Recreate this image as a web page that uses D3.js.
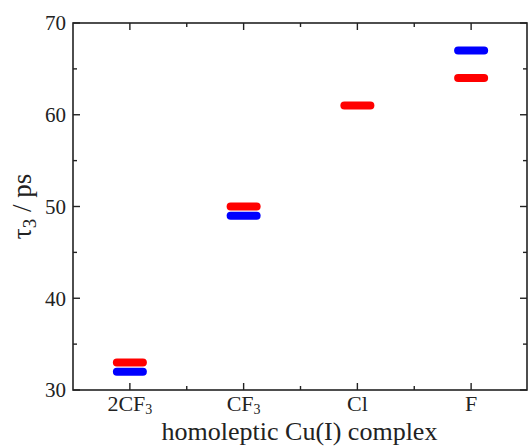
<!DOCTYPE html>
<html>
<head>
<meta charset="utf-8">
<script src="https://cdn.jsdelivr.net/npm/d3@7"></script>
<style>
  body { margin: 0; background: #fff; }
  text { font-family: "Liberation Serif", "Times New Roman", serif; fill: #222; }
</style>
</head>
<body>
<script>
const width = 528;
const height = 448;
const margin = {left: 73, right: 0, top: 23, bottom: 58};

const categories = ['2CF3', 'CF3', 'Cl', 'F'];
const redValues = [33, 50, 61, 64];
const blueValues = [32, 49, null, 67];
const yTicks = [30, 40, 50, 60, 70];

const svg = d3.select('body').append('svg')
  .attr('width', width)
  .attr('height', height);

const x = d3.scaleLinear()
  .domain([0.5, 4.5])
  .range([margin.left, width - margin.right]);

const y = d3.scaleLinear()
  .domain([30, 70])
  .range([height - margin.bottom, margin.top]);

const plotH = height - margin.bottom - margin.top;
const plotW = width - margin.right - margin.left;

// frame
svg.append('rect')
  .attr('x', margin.left)
  .attr('y', margin.top)
  .attr('width', plotW - 1)
  .attr('height', plotH)
  .attr('fill', 'none')
  .attr('stroke', '#222')
  .attr('stroke-width', 1.6);

const majorX = [1, 2, 3, 4];
const minorX = [1.5, 2.5, 3.5];
const minorY = [35, 45, 55, 65];

// bottom ticks (inward)
svg.selectAll('.bx').data(majorX).enter().append('line')
  .attr('x1', d => x(d)).attr('x2', d => x(d))
  .attr('y1', y(30)).attr('y2', y(30) - 7)
  .attr('stroke', '#222').attr('stroke-width', 1.4);
svg.selectAll('.bxm').data(minorX).enter().append('line')
  .attr('x1', d => x(d)).attr('x2', d => x(d))
  .attr('y1', y(30)).attr('y2', y(30) - 4)
  .attr('stroke', '#222').attr('stroke-width', 1.4);
// top ticks
svg.selectAll('.tx').data(majorX).enter().append('line')
  .attr('x1', d => x(d)).attr('x2', d => x(d))
  .attr('y1', y(70)).attr('y2', y(70) + 7)
  .attr('stroke', '#222').attr('stroke-width', 1.4);
svg.selectAll('.txm').data(minorX).enter().append('line')
  .attr('x1', d => x(d)).attr('x2', d => x(d))
  .attr('y1', y(70)).attr('y2', y(70) + 4)
  .attr('stroke', '#222').attr('stroke-width', 1.4);
// left ticks
svg.selectAll('.ly').data(yTicks).enter().append('line')
  .attr('x1', margin.left).attr('x2', margin.left + 7)
  .attr('y1', d => y(d)).attr('y2', d => y(d))
  .attr('stroke', '#222').attr('stroke-width', 1.4);
svg.selectAll('.lym').data(minorY).enter().append('line')
  .attr('x1', margin.left).attr('x2', margin.left + 4)
  .attr('y1', d => y(d)).attr('y2', d => y(d))
  .attr('stroke', '#222').attr('stroke-width', 1.4);
// right ticks
const rx = width - margin.right - 1;
svg.selectAll('.ry').data(yTicks).enter().append('line')
  .attr('x1', rx).attr('x2', rx - 7)
  .attr('y1', d => y(d)).attr('y2', d => y(d))
  .attr('stroke', '#222').attr('stroke-width', 1.4);
svg.selectAll('.rym').data(minorY).enter().append('line')
  .attr('x1', rx).attr('x2', rx - 4)
  .attr('y1', d => y(d)).attr('y2', d => y(d))
  .attr('stroke', '#222').attr('stroke-width', 1.4);

// y tick labels
svg.selectAll('.ylab').data(yTicks).enter().append('text')
  .attr('x', margin.left - 7)
  .attr('y', d => y(d))
  .attr('dy', '0.35em')
  .attr('text-anchor', 'end')
  .style('font-size', '21px')
  .text(d => d);

// x tick labels, trailing digit as subscript
const xl = svg.selectAll('.xlab').data(categories).enter().append('text')
  .attr('x', (d, i) => x(i + 1))
  .attr('y', 411)
  .attr('text-anchor', 'middle')
  .style('font-size', '22px');
xl.each(function(d) {
  const t = d3.select(this);
  const m = d.match(/^(.*[A-Za-z])(\d)$/);
  if (m) {
    t.append('tspan').text(m[1]);
    t.append('tspan').attr('dy', 3).style('font-size', '14px').text(m[2]);
  } else {
    t.text(d);
  }
});

// axis titles
svg.append('text')
  .attr('x', x(2.5) - 1)
  .attr('y', 440)
  .attr('text-anchor', 'middle')
  .style('font-size', '26px')
  .text('homoleptic Cu(I) complex');

const yt = svg.append('text')
  .attr('transform', `translate(31, ${y(50)}) rotate(-90)`)
  .attr('text-anchor', 'middle')
  .style('font-size', '27px');
yt.append('tspan').text('τ');
yt.append('tspan').attr('dy', 5).style('font-size', '19px').text('3');
yt.append('tspan').attr('dy', -5).text(' / ps');

// data segments
const halfW = 13;
function drawSeries(values, color) {
  svg.append('g').selectAll('line')
    .data(values.map((v, i) => ({v: v, i: i})).filter(d => d.v != null))
    .enter().append('line')
    .attr('x1', d => x(d.i + 1) - halfW)
    .attr('x2', d => x(d.i + 1) + halfW)
    .attr('y1', d => y(d.v))
    .attr('y2', d => y(d.v))
    .attr('stroke', color)
    .attr('stroke-width', 8)
    .attr('stroke-linecap', 'round');
}
drawSeries(redValues, '#ff0000');
drawSeries(blueValues, '#0000ff');
</script>
</body>
</html>
